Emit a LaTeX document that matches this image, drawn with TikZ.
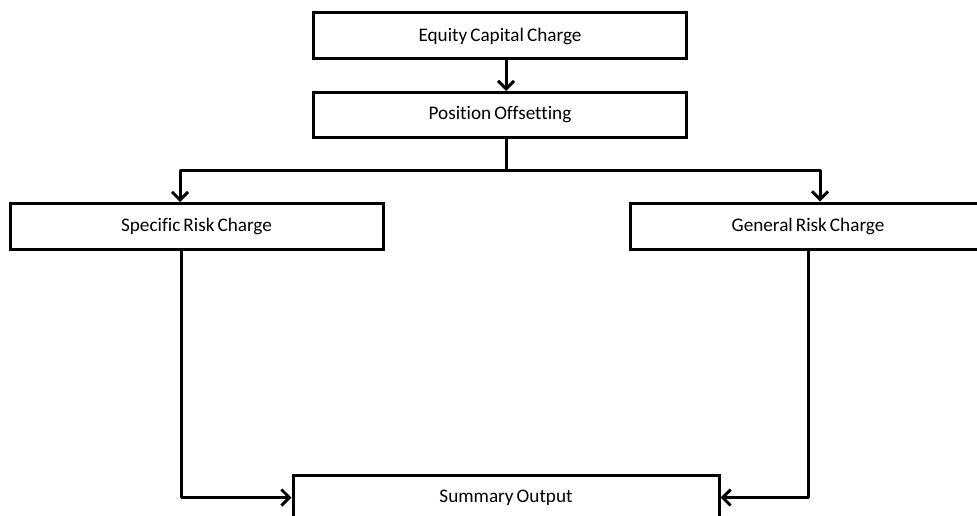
\documentclass[tikz,border=0pt]{standalone}
\usepackage{fontspec}
\setmainfont[Ligatures=NoCommon,WordSpace=0.7]{Carlito}
\usetikzlibrary{arrows.meta}
\begin{document}
\begin{tikzpicture}[x=1pt,y=-1pt,
  box/.style={draw=black,line width=3pt,fill=white,inner sep=0pt,font=\fontsize{19.2}{22}\selectfont},
  arr/.style={line width=3pt,-{Straight Barb[length=8pt,width=16pt,line width=3pt]}},
  conn/.style={line width=3pt}]
\useasboundingbox (0,0) rectangle (977,516);
\node[box,minimum width=373,minimum height=46] (eq) at (500,36) {Equity Capital Charge};
\node[box,minimum width=373,minimum height=45] (po) at (500,115) {Position Offsetting};
\node[box,minimum width=373,minimum height=46] (sr) at (196.5,226.5) {Specific Risk Charge};
\node[box,minimum width=356,minimum height=46] (gr) at (808,226) {General Risk Charge};
\node[box,minimum width=426,minimum height=45] (so) at (506,497.5) {Summary Output};
\coordinate (j) at (506,170);
\draw[arr] ([xshift=6pt]eq.south) -- ([xshift=6pt]po.north);
\draw[conn] ([xshift=6pt]po.south) -- (j);
\draw[arr,line join=round] (j) -| ([xshift=-16.5pt]sr.north);
\draw[arr,line join=round] (j) -| ([xshift=12pt]gr.north);
\draw[arr,line join=round] ([xshift=-15.5pt]sr.south) |- (so.west);
\draw[arr,line join=round] (gr.south) |- (so.east);
\end{tikzpicture}
\end{document}
